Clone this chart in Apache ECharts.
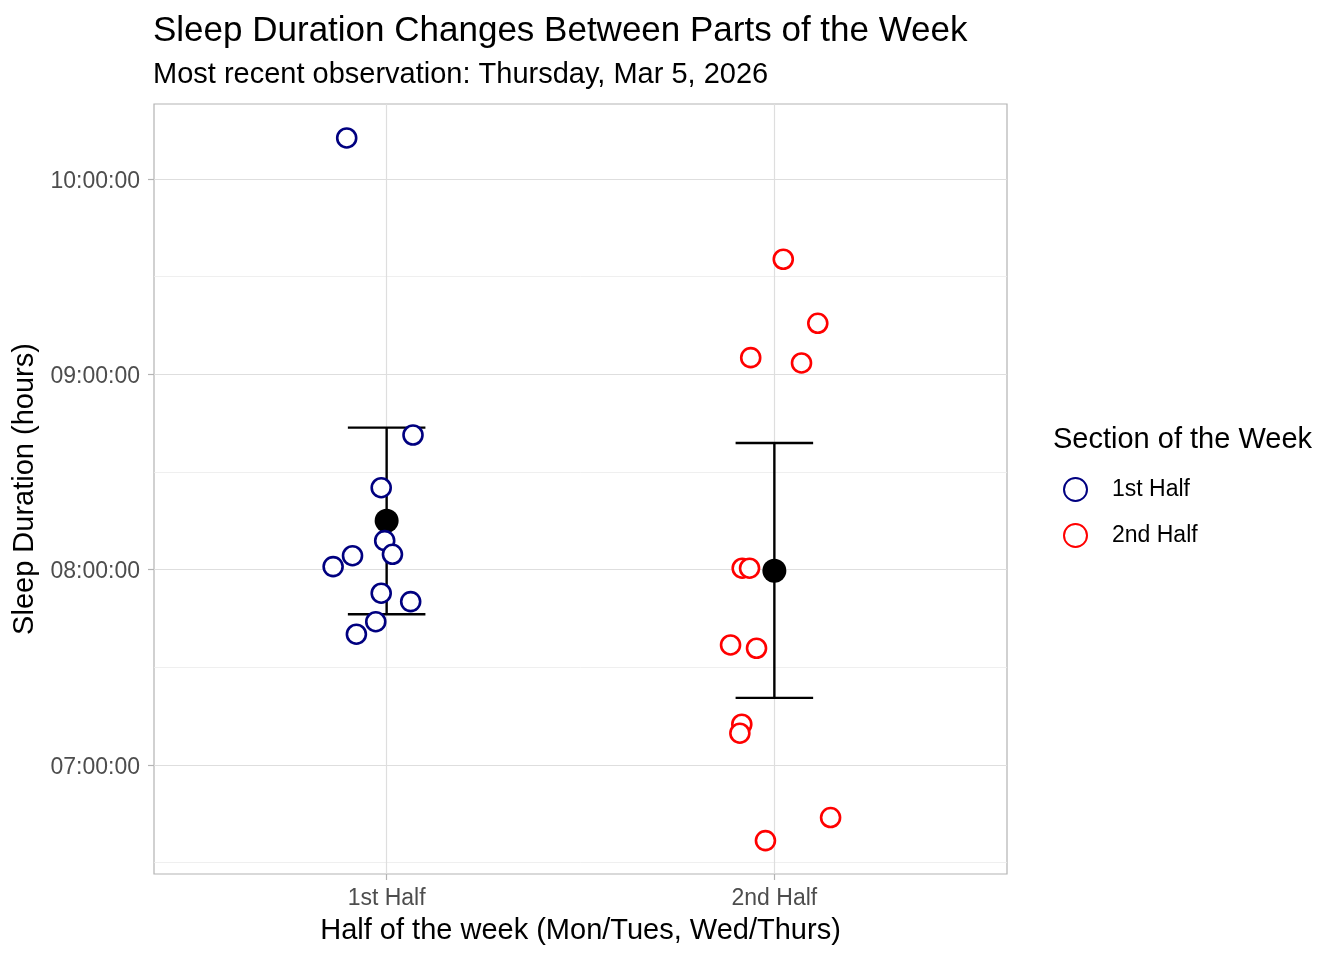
<!DOCTYPE html>
<html>
<head>
<meta charset="utf-8">
<script src="https://cdn.jsdelivr.net/npm/echarts@6/dist/echarts.min.js"></script>
<style>html,body{margin:0;padding:0;background:#fff;}#c{width:1344px;height:960px;}</style>
</head>
<body>
<div id="c"></div>
<script>
// ---- data (hours of sleep; x = jittered position, 1 = 1st Half, 2 = 2nd Half)
const categories = ['1st Half', '2nd Half'];
const firstX = [0.897, 1.068, 0.986, 0.995, 1.015, 0.912, 0.862, 0.986, 1.062, 0.972, 0.922];
const firstY = [10.21, 8.689, 8.419, 8.148, 8.078, 8.071, 8.015, 7.879, 7.836, 7.733, 7.669];
const secondX = [2.023, 2.112, 1.939, 2.070, 1.917, 1.936, 1.887, 1.954, 1.916, 1.911, 2.145, 1.977];
const secondY = [9.589, 9.261, 9.085, 9.058, 8.007, 8.007, 7.614, 7.597, 7.208, 7.162, 6.730, 6.612];
const means = [8.250, 7.994];
const lowers = [7.771, 7.343];
const uppers = [8.727, 8.648];
const yTicks = [7, 8, 9, 10];
const yMinor = [6.5, 7.5, 8.5, 9.5];

const FONT = 'Liberation Sans, Arial, sans-serif';
function fmt(h) {
  const tot = Math.round(h * 3600);
  const hh = Math.floor(tot / 3600), mm = Math.floor((tot % 3600) / 60), ss = tot % 60;
  const p = n => String(n).padStart(2, '0');
  return p(hh) + ':' + p(mm) + ':' + p(ss);
}
const pair = (xs, ys) => xs.map((x, i) => [x, ys[i]]);

const gridLines = [];
yMinor.forEach(v => gridLines.push({ yAxis: v, lineStyle: { color: '#ebebeb', width: 0.8, type: 'solid' } }));
yTicks.forEach(v => gridLines.push({ yAxis: v, lineStyle: { color: '#dedede', width: 1.2, type: 'solid' } }));
categories.forEach((c, i) => gridLines.push({ xAxis: i + 1, lineStyle: { color: '#dedede', width: 1.2, type: 'solid' } }));

const chart = echarts.init(document.getElementById('c'), null, { renderer: 'canvas' });
chart.setOption({
  animation: false,
  backgroundColor: '#fff',
  textStyle: { fontFamily: FONT },
  title: [
    { text: 'Sleep Duration Changes Between Parts of the Week', left: 148, top: 9,
      textStyle: { fontFamily: FONT, fontSize: 35, fontWeight: 'normal', color: '#000' } },
    { text: 'Most recent observation: Thursday, Mar 5, 2026', left: 148, top: 55,
      textStyle: { fontFamily: FONT, fontSize: 29, fontWeight: 'normal', color: '#000' } }
  ],
  grid: { left: 154, top: 104, right: 337, bottom: 86, show: true, borderColor: '#b3b3b3', borderWidth: 1.2, backgroundColor: 'transparent' },
  xAxis: {
    type: 'value', min: 0.4, max: 2.6,
    name: 'Half of the week (Mon/Tues, Wed/Thurs)', nameLocation: 'middle', nameGap: 42,
    nameTextStyle: { fontFamily: FONT, fontSize: 29, color: '#000' },
    axisLine: { show: false },
    splitLine: { show: false },
    axisTick: { show: true, customValues: [1, 2], length: 6, lineStyle: { color: '#b3b3b3', width: 1.2 } },
    axisLabel: { customValues: [1, 2], formatter: v => categories[Math.round(v) - 1] || '',
      fontFamily: FONT, fontSize: 23, color: '#4d4d4d', margin: 13 }
  },
  yAxis: {
    type: 'value', min: 6.441, max: 10.384,
    name: 'Sleep Duration (hours)', nameLocation: 'middle', nameGap: 109, nameRotate: 90,
    nameTextStyle: { fontFamily: FONT, fontSize: 29, color: '#000' },
    axisLine: { show: false },
    splitLine: { show: false },
    axisTick: { show: true, customValues: yTicks, length: 6, lineStyle: { color: '#b3b3b3', width: 1.2 } },
    axisLabel: { customValues: yTicks, formatter: v => '{a|' + fmt(v) + '}', margin: 14,
      rich: { a: { fontFamily: FONT, fontSize: 23, color: '#4d4d4d', padding: [5, 0, 0, 0] } } }
  },
  legend: {
    orient: 'vertical', left: 1058, top: 472, itemWidth: 23, itemHeight: 23, itemGap: 21,
    data: categories,
    textStyle: { fontFamily: FONT, fontSize: 23, color: '#000', padding: [0, 0, 0, 20] }
  },
  graphic: [
    { type: 'text', left: 1053, top: 425, style: { text: 'Section of the Week', font: '29px ' + FONT, fill: '#000' } }
  ],
  series: [
    { type: 'scatter', name: '_grid', data: [], silent: true, z: 0, zlevel: 0,
      markLine: { silent: true, symbol: 'none', label: { show: false }, animation: false, data: gridLines } },
    { type: 'custom', name: '_err', zlevel: 1, z: 2, silent: true,
      data: categories.map((c, i) => [i + 1, lowers[i], uppers[i]]),
      renderItem: function (params, api) {
        const x = api.value(0);
        const lo = api.coord([x, api.value(1)]);
        const hi = api.coord([x, api.value(2)]);
        const l1 = api.coord([x - 0.1, api.value(1)]);
        const r1 = api.coord([x + 0.1, api.value(1)]);
        const l2 = api.coord([x - 0.1, api.value(2)]);
        const r2 = api.coord([x + 0.1, api.value(2)]);
        const st = { stroke: '#000', lineWidth: 2.4 };
        return { type: 'group', children: [
          { type: 'line', shape: { x1: lo[0], y1: lo[1], x2: hi[0], y2: hi[1] }, style: st },
          { type: 'line', shape: { x1: l1[0], y1: l1[1], x2: r1[0], y2: r1[1] }, style: st },
          { type: 'line', shape: { x1: l2[0], y1: l2[1], x2: r2[0], y2: r2[1] }, style: st }
        ] };
      } },
    { type: 'scatter', name: '_mean', zlevel: 1, z: 3, data: categories.map((c, i) => [i + 1, means[i]]), symbol: 'circle', symbolSize: 24,
      itemStyle: { color: '#000', opacity: 1 } },
    { type: 'scatter', name: categories[0], zlevel: 1, z: 4, data: pair(firstX, firstY), symbol: 'circle', symbolSize: 19,
      itemStyle: { color: '#ffffff', borderColor: '#000080', borderWidth: 2.6, opacity: 1 } },
    { type: 'scatter', name: categories[1], zlevel: 1, z: 4, data: pair(secondX, secondY), symbol: 'circle', symbolSize: 19,
      itemStyle: { color: '#ffffff', borderColor: '#ff0000', borderWidth: 2.6, opacity: 1 } }
  ]
});
</script>
</body>
</html>
